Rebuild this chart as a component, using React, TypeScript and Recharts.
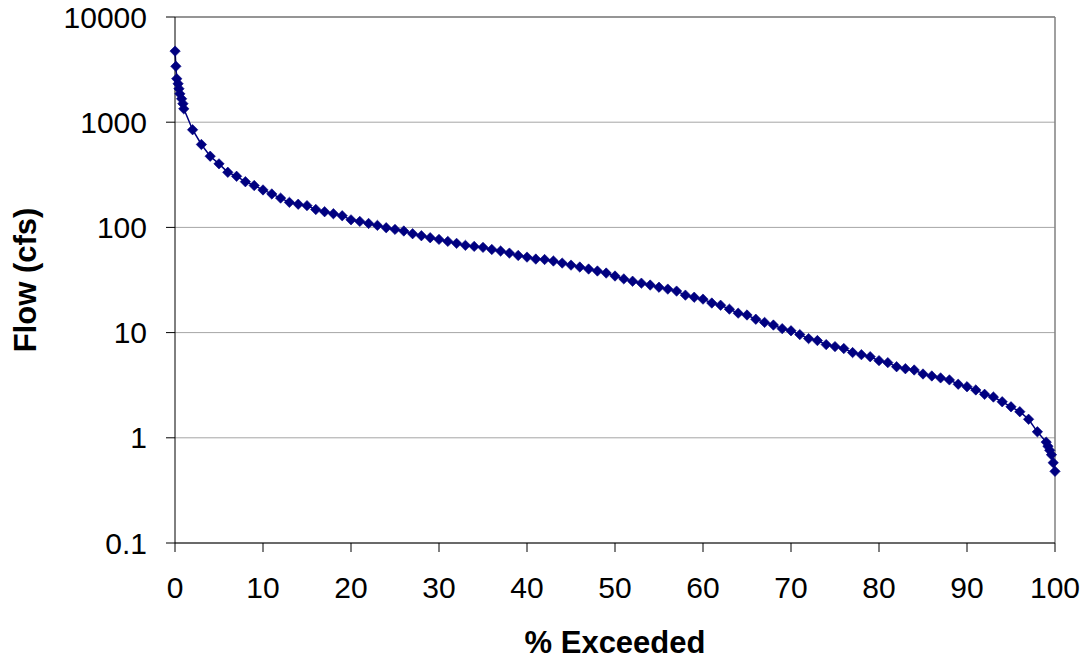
import React from 'react';
import {CartesianGrid, Line, LineChart, ReferenceLine, XAxis, YAxis} from 'recharts';

const pctExceeded = [
    0.01, 0.1, 0.2, 0.35, 0.45, 0.55, 0.75, 0.9, 1,
    2, 3, 4, 5, 6, 7, 8, 9, 10,
    11, 12, 13, 14, 15, 16, 17, 18, 19, 20,
    21, 22, 23, 24, 25, 26, 27, 28, 29, 30,
    31, 32, 33, 34, 35, 36, 37, 38, 39, 40,
    41, 42, 43, 44, 45, 46, 47, 48, 49, 50,
    51, 52, 53, 54, 55, 56, 57, 58, 59, 60,
    61, 62, 63, 64, 65, 66, 67, 68, 69, 70,
    71, 72, 73, 74, 75, 76, 77, 78, 79, 80,
    81, 82, 83, 84, 85, 86, 87, 88, 89, 90,
    91, 92, 93, 94, 95, 96, 97, 98, 99,
    99.2, 99.4, 99.6, 99.8, 100,
];

const flowCfs = [
    4740, 3400, 2590, 2320, 2080, 1860, 1670, 1500, 1340,
    848, 614, 475, 402, 334, 306, 272, 250, 227,
    208, 190, 173, 166, 161, 148, 141, 135, 129, 118,
    114, 109, 104.5, 99.3, 95.7, 92.4, 87.1, 83.4, 79.8, 76.9,
    73.6, 70.5, 67.5, 66, 64.6, 61.7, 59.6, 57, 54.1, 52.2,
    50, 49.5, 47.9, 45.8, 43.8, 42, 40.2, 38.5, 36.8, 34.5,
    32.4, 30.8, 29.5, 28.3, 27, 25.9, 24.8, 22.7, 21.7, 20.8,
    19.1, 18.2, 16.7, 15.3, 14.7, 13.4, 12.5, 11.8, 10.9, 10.4,
    9.57, 8.77, 8.4, 7.69, 7.36, 7.05, 6.46, 6.17, 5.9, 5.41,
    5.18, 4.74, 4.54, 4.41, 4.04, 3.87, 3.71, 3.55, 3.23, 3.06,
    2.85, 2.59, 2.44, 2.2, 1.97, 1.77, 1.5, 1.14, 0.91,
    0.83, 0.76, 0.69, 0.58, 0.48,
];

const xTicks = [0, 10, 20, 30, 40, 50, 60, 70, 80, 90, 100];
const yTicks = [0.1, 1, 10, 100, 1000, 10000];

const chartData = pctExceeded.map((x, i) => ({x, flow: flowCfs[i]}));

const FONT = '"Liberation Sans", Arial, sans-serif';

// Excel style diamond marker
const Diamond = (props: any) => {
    const {cx, cy} = props;
    if (cx == null || cy == null) return null;
    const r = 5.2;
    return (
        <polygon
            points={`${cx},${cy - r} ${cx + r},${cy} ${cx},${cy + r} ${cx - r},${cy}`}
            fill="#000080"
            stroke="#000080"
            strokeWidth={0.6}
        />
    );
};

export default function App() {
    return (
        <div style={{position: 'absolute', left: 0, top: 0, background: '#fff'}}>
            <LineChart
                width={1089}
                height={661}
                data={chartData}
                margin={{top: 17, right: 34, bottom: 0, left: 0}}
            >
                <CartesianGrid vertical={false} stroke="#a6a6a6"/>
                <XAxis
                    type="number"
                    dataKey="x"
                    domain={[0, 100]}
                    ticks={xTicks}
                    height={118}
                    tickSize={9}
                    tickMargin={25}
                    axisLine={{stroke: '#000'}}
                    tickLine={{stroke: '#000'}}
                    tick={{fill: '#000', fontSize: 30, fontFamily: FONT}}
                    label={{
                        content: () => (
                            <text x={615} y={653} textAnchor="middle" fill="#000"
                                  style={{fontFamily: FONT, fontSize: 31, fontWeight: 'bold'}}>
                                % Exceeded
                            </text>
                        ),
                    }}
                />
                <YAxis
                    type="number"
                    scale="log"
                    domain={[0.1, 10000]}
                    ticks={yTicks}
                    allowDataOverflow
                    width={175}
                    tickSize={9}
                    tickMargin={19}
                    tickFormatter={(v: number) => String(v)}
                    axisLine={{stroke: '#000'}}
                    tickLine={{stroke: '#000'}}
                    tick={{fill: '#000', fontSize: 30, fontFamily: FONT}}
                    label={{
                        content: () => (
                            <text x={36} y={280} textAnchor="middle" fill="#000"
                                  transform="rotate(-90 36 280)"
                                  style={{fontFamily: FONT, fontSize: 31, fontWeight: 'bold'}}>
                                Flow (cfs)
                            </text>
                        ),
                    }}
                />
                <ReferenceLine x={100} stroke="#808080" strokeWidth={1.5}/>
                <ReferenceLine y={10000} stroke="#808080" strokeWidth={1.5}/>
                <Line
                    type="linear"
                    dataKey="flow"
                    stroke="#000080"
                    strokeWidth={1.5}
                    dot={<Diamond/>}
                    activeDot={false}
                    isAnimationActive={false}
                />
            </LineChart>
        </div>
    );
}
